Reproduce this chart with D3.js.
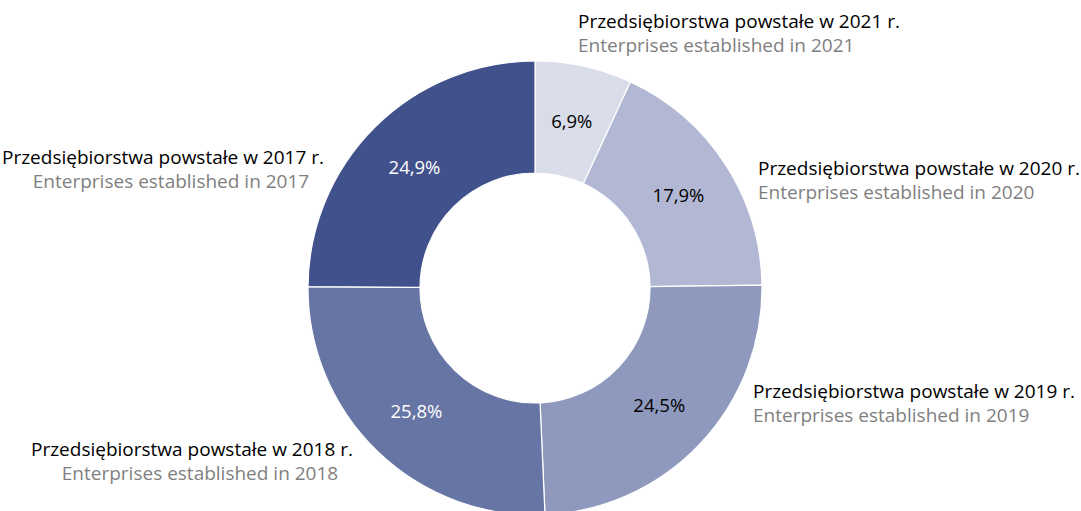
<!DOCTYPE html>
<html><head><meta charset="utf-8">
<script src="https://cdn.jsdelivr.net/npm/d3@7"></script>
<style>body{margin:0;background:#fff;} svg{display:block;} text{font-family:"Open Sans","Noto Sans",sans-serif;}</style>
</head><body><svg id="c" width="1081" height="511"></svg>
<script>
const years = ["2021","2020","2019","2018","2017"];
const values = [6.9, 17.9, 24.5, 25.8, 24.9];
const labelsPL = years.map(y => "Przedsiębiorstwa powstałe w " + y + " r.");
const labelsEN = years.map(y => "Enterprises established in " + y);
const colors = ["#d9dde9", "#b2b8d3", "#8e99bd", "#6775a5", "#41518c"];
const pctColors = ["#000", "#000", "#000", "#fff", "#fff"];
// label block positions [x, baseline y, anchor]
const labelPos = [
  [578, 28, "start"],
  [758, 175, "start"],
  [753, 398, "start"],
  [192, 456, "middle"],
  [163, 164, "middle"]
];
const enOffset = [0, 0, 0, 8, 8];

const svg = d3.select("#c");
const cx = 535, cy = 288, R = 227, r = 115;
const data = years.map((y, i) => ({year: y, value: values[i], i}));
const pie = d3.pie().value(d => d.value).sort(null);
const arc = d3.arc().innerRadius(r).outerRadius(R);
const g = svg.append("g").attr("transform", `translate(${cx},${cy})`);
const arcs = pie(data);
g.selectAll("path").data(arcs).join("path")
  .attr("d", arc).attr("fill", d => colors[d.data.i])
  .attr("stroke", "#fff").attr("stroke-width", 1.2);
g.selectAll("text.pct").data(arcs).join("text").attr("class", "pct")
  .attr("x", d => arc.centroid(d)[0])
  .attr("y", d => arc.centroid(d)[1] + 7)
  .attr("text-anchor", "middle").attr("font-size", 18.5)
  .attr("fill", d => pctColors[d.data.i])
  .text(d => d3.format(".1f")(d.data.value).replace(".", ",") + "%");

const lab = svg.append("g");
data.forEach((d, i) => {
  const [x, y, a] = labelPos[i];
  lab.append("text").attr("x", x).attr("y", y).attr("text-anchor", a)
    .attr("font-size", 19).attr("fill", "#000").text(labelsPL[i]);
  lab.append("text").attr("x", x + enOffset[i]).attr("y", y + 24).attr("text-anchor", a)
    .attr("font-size", 19).attr("fill", "#7f7f7f").text(labelsEN[i]);
});
</script></body></html>
